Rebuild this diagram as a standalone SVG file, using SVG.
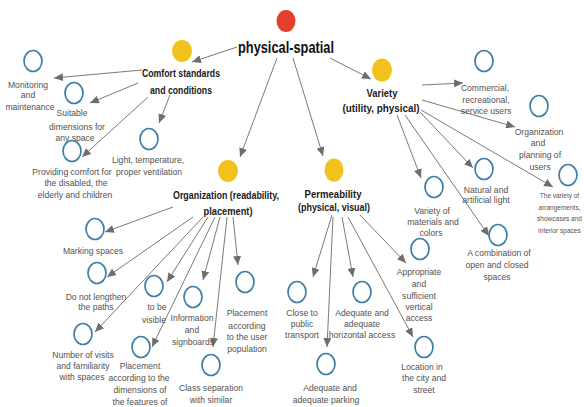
<svg xmlns="http://www.w3.org/2000/svg" width="584" height="407" viewBox="0 0 584 407">
  <defs>
    <marker id="arrow" markerUnits="userSpaceOnUse" markerWidth="10" markerHeight="8" refX="9" refY="4" orient="auto">
      <path d="M0,0 L9,4 L0,8 Z" fill="#6e6e6e"/>
    </marker>
    <style>
      .edge { stroke: #7a7a7a; stroke-width: 1; fill: none; marker-end: url(#arrow); }
      .root { fill: #e2402d; }
      .topic { fill: #f1c21c; }
      .leaf { fill: none; stroke: #3f7fa6; stroke-width: 1.7; }
      .title { font-family: "Liberation Sans", Arial, sans-serif; font-weight: bold; fill: #111; text-anchor: middle; }
      .head { font-family: "Liberation Sans", Arial, sans-serif; font-weight: bold; font-size: 11px; fill: #1a1a1a; text-anchor: middle; }
      .lbl { font-family: "Liberation Sans", Arial, sans-serif; font-size: 8.6px; fill: #525252; text-anchor: middle; }
      .small-lbl { font-family: "Liberation Sans", Arial, sans-serif; font-size: 6.5px; fill: #525252; text-anchor: middle; }
    </style>
  </defs>
  <rect width="584" height="407" fill="#ffffff"/>

  <!-- connectors -->
  <g id="connectors">
    <line class="edge" x1="237" y1="47" x2="192" y2="62"/>
    <line class="edge" x1="277" y1="58" x2="240" y2="157"/>
    <line class="edge" x1="293" y1="58" x2="323" y2="156"/>
    <line class="edge" x1="330" y1="58" x2="371" y2="79"/>

    <line class="edge" x1="142" y1="70" x2="54" y2="78"/>
    <line class="edge" x1="138" y1="83" x2="90" y2="103"/>
    <line class="edge" x1="148" y1="97" x2="82" y2="157"/>
    <line class="edge" x1="170" y1="95" x2="159" y2="123"/>

    <line class="edge" x1="173" y1="207" x2="105" y2="232"/>
    <line class="edge" x1="193" y1="217" x2="107" y2="277"/>
    <line class="edge" x1="203" y1="217" x2="95" y2="332"/>
    <line class="edge" x1="208" y1="217" x2="167" y2="282"/>
    <line class="edge" x1="215" y1="217" x2="152" y2="347"/>
    <line class="edge" x1="220" y1="217" x2="203" y2="280"/>
    <line class="edge" x1="227" y1="217" x2="213" y2="347"/>
    <line class="edge" x1="233" y1="217" x2="238" y2="265"/>

    <line class="edge" x1="332" y1="215" x2="313" y2="277"/>
    <line class="edge" x1="333" y1="217" x2="327" y2="347"/>
    <line class="edge" x1="342" y1="217" x2="353" y2="277"/>
    <line class="edge" x1="348" y1="217" x2="413" y2="337"/>
    <line class="edge" x1="360" y1="215" x2="406" y2="263"/>

    <line class="edge" x1="422" y1="85" x2="463" y2="83"/>
    <line class="edge" x1="422" y1="100" x2="515" y2="127"/>
    <line class="edge" x1="420" y1="112" x2="473" y2="168"/>
    <line class="edge" x1="421" y1="110" x2="553" y2="187"/>
    <line class="edge" x1="397" y1="115" x2="421" y2="178"/>
    <line class="edge" x1="405" y1="115" x2="489" y2="236"/>
  </g>

  <!-- root -->
  <g id="physical-spatial">
    <ellipse class="root" cx="286" cy="21" rx="9.5" ry="11"/>
    <text class="title" x="286" y="53" font-size="17" textLength="96" lengthAdjust="spacingAndGlyphs">physical-spatial</text>
  </g>

  <!-- second level -->
  <g id="comfort">
    <ellipse class="topic" cx="182" cy="51" rx="10" ry="11"/>
    <text class="head" x="181" y="77" textLength="78" lengthAdjust="spacingAndGlyphs">Comfort standards</text>
    <text class="head" x="181" y="94" textLength="62" lengthAdjust="spacingAndGlyphs">and conditions</text>
  </g>
  <g id="variety">
    <ellipse class="topic" cx="382" cy="70" rx="10" ry="11.5"/>
    <text class="head" x="382" y="97" textLength="31" lengthAdjust="spacingAndGlyphs">Variety</text>
    <text class="head" x="381" y="112" textLength="77" lengthAdjust="spacingAndGlyphs">(utility, physical)</text>
  </g>
  <g id="organization">
    <ellipse class="topic" cx="228" cy="171" rx="10" ry="11"/>
    <text class="head" x="226" y="199" textLength="106" lengthAdjust="spacingAndGlyphs">Organization (readability,</text>
    <text class="head" x="228" y="215" textLength="49" lengthAdjust="spacingAndGlyphs">placement)</text>
  </g>
  <g id="permeability">
    <ellipse class="topic" cx="334" cy="170" rx="9.5" ry="11.5"/>
    <text class="head" x="333" y="198" textLength="57" lengthAdjust="spacingAndGlyphs">Permeability</text>
    <text class="head" x="334" y="211" textLength="72" lengthAdjust="spacingAndGlyphs">(physical, visual)</text>
  </g>

  <!-- comfort leaves -->
  <g id="monitoring">
    <ellipse class="leaf" cx="33" cy="61" rx="9" ry="10.5"/>
    <text class="lbl" x="28" y="88">Monitoring</text>
    <text class="lbl" x="28" y="98">and</text>
    <text class="lbl" x="30" y="110">maintenance</text>
  </g>
  <g id="suitable-dimensions">
    <ellipse class="leaf" cx="74" cy="93" rx="9" ry="10.5"/>
    <text class="lbl" x="72" y="116">Suitable</text>
    <text class="lbl" x="77" y="130">dimensions for</text>
    <text class="lbl" x="75" y="141">any space</text>
  </g>
  <g id="providing-comfort">
    <ellipse class="leaf" cx="72" cy="151" rx="9" ry="10.5"/>
    <text class="lbl" x="72" y="175">Providing comfort for</text>
    <text class="lbl" x="76" y="186">the disabled, the</text>
    <text class="lbl" x="75" y="198">elderly and children</text>
  </g>
  <g id="light-temperature">
    <ellipse class="leaf" cx="149" cy="139" rx="9" ry="10.5"/>
    <text class="lbl" x="148" y="163">Light, temperature,</text>
    <text class="lbl" x="149" y="175">proper ventilation</text>
  </g>

  <!-- variety leaves -->
  <g id="commercial">
    <ellipse class="leaf" cx="484" cy="61" rx="9" ry="10.5"/>
    <text class="lbl" x="485" y="91">Commercial,</text>
    <text class="lbl" x="486" y="103">recreational,</text>
    <text class="lbl" x="486" y="114">service users</text>
  </g>
  <g id="organization-planning">
    <ellipse class="leaf" cx="539" cy="106" rx="9" ry="10.5"/>
    <text class="lbl" x="539" y="135">Organization</text>
    <text class="lbl" x="538" y="146">and</text>
    <text class="lbl" x="540" y="158">planning of</text>
    <text class="lbl" x="540" y="170">users</text>
  </g>
  <g id="natural-light">
    <ellipse class="leaf" cx="484" cy="169" rx="9" ry="10.5"/>
    <text class="lbl" x="486" y="193">Natural and</text>
    <text class="lbl" x="486" y="203">artificial light</text>
  </g>
  <g id="variety-materials">
    <ellipse class="leaf" cx="434" cy="187" rx="9" ry="10.5"/>
    <text class="lbl" x="432" y="214">Variety of</text>
    <text class="lbl" x="433" y="225">materials and</text>
    <text class="lbl" x="431" y="236">colors</text>
  </g>
  <g id="variety-arrangements">
    <ellipse class="leaf" cx="568" cy="175" rx="9" ry="10.5"/>
    <text class="small-lbl" x="559.5" y="198">The variety of</text>
    <text class="small-lbl" x="559.5" y="210">arrangements,</text>
    <text class="small-lbl" x="559.5" y="221">showcases and</text>
    <text class="small-lbl" x="559.5" y="233">interior spaces</text>
  </g>
  <g id="combination-spaces">
    <ellipse class="leaf" cx="498" cy="235" rx="9" ry="10.5"/>
    <text class="lbl" x="499" y="256">A combination of</text>
    <text class="lbl" x="497" y="268">open and closed</text>
    <text class="lbl" x="497" y="280">spaces</text>
  </g>

  <!-- organization leaves -->
  <g id="marking-spaces">
    <ellipse class="leaf" cx="95" cy="229" rx="9" ry="10.5"/>
    <text class="lbl" x="93" y="254">Marking spaces</text>
  </g>
  <g id="do-not-lengthen">
    <ellipse class="leaf" cx="97" cy="273" rx="9" ry="10.5"/>
    <text class="lbl" x="96" y="300">Do not lengthen</text>
    <text class="lbl" x="96" y="310">the paths</text>
  </g>
  <g id="to-be-visible">
    <ellipse class="leaf" cx="154" cy="286" rx="9" ry="10.5"/>
    <text class="lbl" x="157" y="310">to be</text>
    <text class="lbl" x="154" y="323">visible</text>
  </g>
  <g id="information-signboards">
    <ellipse class="leaf" cx="193" cy="297" rx="9" ry="10.5"/>
    <text class="lbl" x="192" y="321">Information</text>
    <text class="lbl" x="192" y="333">and</text>
    <text class="lbl" x="193" y="345">signboards</text>
  </g>
  <g id="placement-population">
    <ellipse class="leaf" cx="245" cy="282" rx="9" ry="10.5"/>
    <text class="lbl" x="247" y="316">Placement</text>
    <text class="lbl" x="247" y="329">according</text>
    <text class="lbl" x="247" y="340">to the user</text>
    <text class="lbl" x="247" y="352">population</text>
  </g>
  <g id="visits-familiarity">
    <ellipse class="leaf" cx="83" cy="334" rx="9" ry="10.5"/>
    <text class="lbl" x="83" y="358">Number of visits</text>
    <text class="lbl" x="83" y="369">and familiarity</text>
    <text class="lbl" x="82" y="380">with spaces</text>
  </g>
  <g id="placement-dimensions">
    <ellipse class="leaf" cx="141" cy="347" rx="9" ry="10.5"/>
    <text class="lbl" x="140" y="369">Placement</text>
    <text class="lbl" x="139" y="381">according to the</text>
    <text class="lbl" x="140" y="393">dimensions of</text>
    <text class="lbl" x="140" y="405">the features of</text>
  </g>
  <g id="class-separation">
    <ellipse class="leaf" cx="211" cy="365" rx="9" ry="10.5"/>
    <text class="lbl" x="211" y="391">Class separation</text>
    <text class="lbl" x="211" y="403">with similar</text>
  </g>

  <!-- permeability leaves -->
  <g id="public-transport">
    <ellipse class="leaf" cx="297" cy="292" rx="9" ry="10.5"/>
    <text class="lbl" x="302" y="316">Close to</text>
    <text class="lbl" x="302" y="327">public</text>
    <text class="lbl" x="302" y="338">transport</text>
  </g>
  <g id="parking">
    <ellipse class="leaf" cx="326" cy="364" rx="9" ry="10.5"/>
    <text class="lbl" x="330" y="391">Adequate and</text>
    <text class="lbl" x="326" y="403">adequate parking</text>
  </g>
  <g id="horizontal-access">
    <ellipse class="leaf" cx="362" cy="292" rx="9" ry="10.5"/>
    <text class="lbl" x="362" y="316">Adequate and</text>
    <text class="lbl" x="362" y="327">adequate</text>
    <text class="lbl" x="362" y="338">horizontal access</text>
  </g>
  <g id="vertical-access">
    <ellipse class="leaf" cx="420" cy="249" rx="9" ry="10.5"/>
    <text class="lbl" x="419" y="275">Appropriate</text>
    <text class="lbl" x="419" y="287">and</text>
    <text class="lbl" x="419" y="299">sufficient</text>
    <text class="lbl" x="419" y="310">vertical</text>
    <text class="lbl" x="419" y="321">access</text>
  </g>
  <g id="location">
    <ellipse class="leaf" cx="424" cy="347" rx="9" ry="10.5"/>
    <text class="lbl" x="422" y="370">Location in</text>
    <text class="lbl" x="424" y="381">the city and</text>
    <text class="lbl" x="424" y="393">street</text>
  </g>
</svg>
